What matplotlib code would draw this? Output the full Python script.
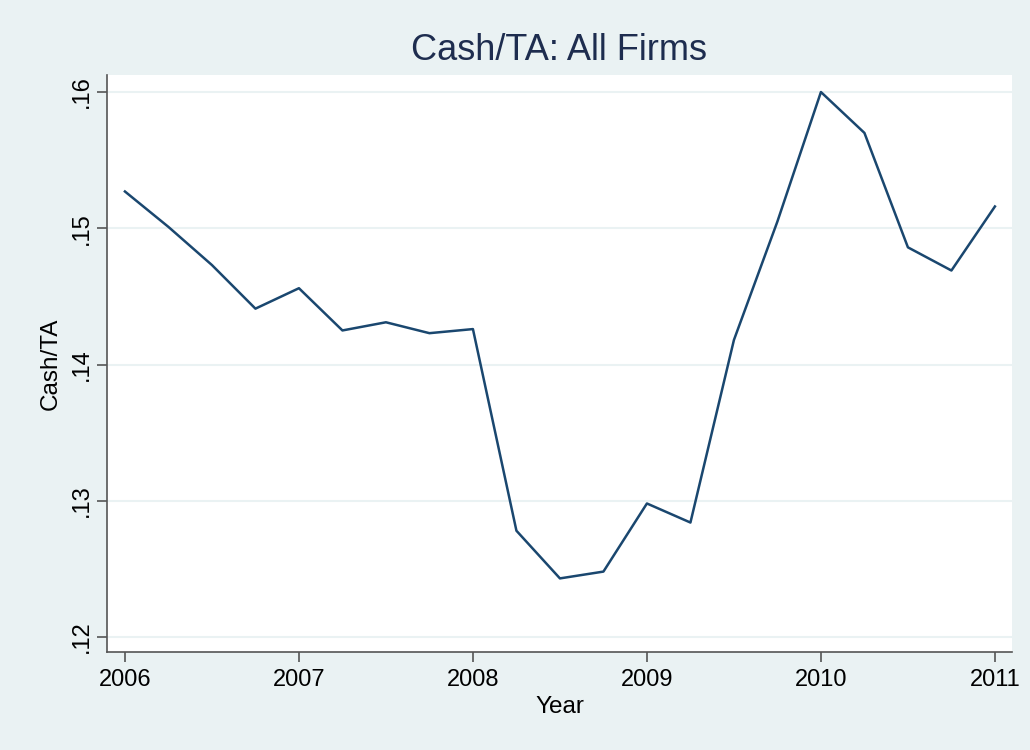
import matplotlib
matplotlib.use("Agg")
import matplotlib.pyplot as plt

plt.rcParams['font.family'] = ['Liberation Sans', 'DejaVu Sans']

quarters = [2006 + i * 0.25 for i in range(21)]
cash_ta = [0.1527, 0.1501, 0.1473, 0.1441, 0.1456, 0.1425, 0.1431, 0.1423, 0.1426,
           0.1278, 0.1243, 0.1248, 0.1298, 0.1284, 0.1418, 0.1505, 0.1600, 0.1570,
           0.1486, 0.1469, 0.1516]
xticks = [2006, 2007, 2008, 2009, 2010, 2011]
yticks = [0.12, 0.13, 0.14, 0.15, 0.16]
ytick_labels = ['.12', '.13', '.14', '.15', '.16']

bg = '#EAF2F3'
navy = '#1A476F'

fig = plt.figure(figsize=(10.3, 7.5), dpi=100, facecolor=bg)
ax = fig.add_axes([0.1039, 0.1307, 0.8786, 0.7693])
ax.set_facecolor('white')
ax.plot(quarters, cash_ta, color=navy, linewidth=1.8)
ax.set_xlim(2005.897, 2011.098)
ax.set_ylim(0.1189, 0.16125)
ax.set_xticks(xticks)
ax.set_xticklabels([str(x) for x in xticks])
ax.set_yticks(yticks)
ax.set_yticklabels(ytick_labels, rotation=90, va='center')
ax.grid(axis='y', color=bg, linewidth=1.5)
ax.set_axisbelow(True)
for s in ['top', 'right']:
    ax.spines[s].set_visible(False)
for s in ['left', 'bottom']:
    ax.spines[s].set_color('#555555')
    ax.spines[s].set_linewidth(1.2)
ax.tick_params(axis='x', labelsize=17, color='#555555', length=7.5, width=1.2, pad=5)
ax.tick_params(axis='y', labelsize=17, color='#555555', length=7.5, width=1.2, pad=3)
ax.set_xlabel('Year', fontsize=17.5, labelpad=3)
ax.set_ylabel('Cash/TA', fontsize=17.5, labelpad=6)
ax.set_title('Cash/TA: All Firms', fontsize=26, color='#1E2D4F', pad=11)
fig.savefig('out.png', dpi=100, facecolor=bg)
